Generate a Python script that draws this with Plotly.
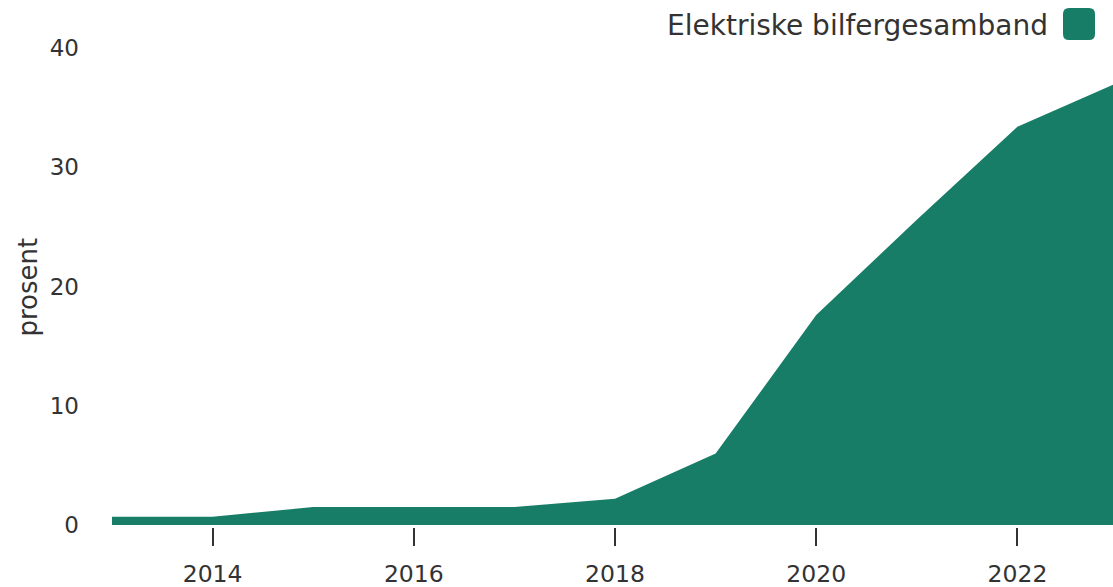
import plotly.graph_objects as go

# Share of electric car-ferry connections, per year (percent)
years = [2013, 2014, 2015, 2016, 2017, 2018, 2019, 2020, 2021, 2022, 2023]
share = [0.7, 0.7, 1.5, 1.5, 1.5, 2.2, 6.0, 17.6, 25.6, 33.4, 37.1]

series_name = "Elektriske bilfergesamband"
y_title = "prosent"
x_ticks = [2014, 2016, 2018, 2020, 2022]
y_ticks = [0, 10, 20, 30, 40]

GREEN = "#177d66"
TEXT = "#333333"
FONT = "DejaVu Sans"

fig = go.Figure()
fig.add_trace(go.Scatter(
    x=years, y=share, mode="lines", fill="tozeroy",
    line=dict(width=0, color=GREEN), fillcolor=GREEN,
    name=series_name, showlegend=False, hoverinfo="x+y",
))

fig.update_layout(
    width=1113, height=587,
    margin=dict(l=112, r=0, t=48, b=60),
    plot_bgcolor="white", paper_bgcolor="white",
    font=dict(family=FONT, color=TEXT, size=23),
    xaxis=dict(
        range=[2013, 2022.95], tickvals=x_ticks, ticktext=[str(v) for v in x_ticks],
        showgrid=False, zeroline=False, showline=False,
        ticks="outside", ticklen=18, tickwidth=2, tickcolor=TEXT,
        ticklabelstandoff=8,
        tickfont=dict(size=23.5, color=TEXT, family=FONT),
    ),
    yaxis=dict(
        range=[-0.17, 40], tickvals=y_ticks, ticktext=[str(v) for v in y_ticks],
        showgrid=False, zeroline=False, showline=False, ticks="",
        ticklabelstandoff=32,
        tickfont=dict(size=23, color=TEXT, family=FONT),
    ),
)

# Axis title
fig.add_annotation(
    text=y_title, xref="paper", yref="paper", x=0, y=0.5,
    xanchor="center", yanchor="middle", xshift=-85, textangle=-90,
    showarrow=False, font=dict(size=26, color=TEXT, family=FONT),
)

# Legend entry: label plus rounded swatch in the top-right corner
fig.add_annotation(
    text=series_name, xref="paper", yref="paper", x=1, y=1,
    xanchor="right", yanchor="middle", xshift=-63, yshift=23,
    showarrow=False, font=dict(size=28, color=TEXT, family=FONT),
)
fig.add_shape(
    type="path", xref="paper", yref="paper",
    xsizemode="pixel", ysizemode="pixel", xanchor=1, yanchor=1,
    path="M -44,8 L -24,8 Q -18,8 -18,14 L -18,34 Q -18,40 -24,40 "
         "L -44,40 Q -50,40 -50,34 L -50,14 Q -50,8 -44,8 Z",
    fillcolor=GREEN, line=dict(width=0),
)

fig.write_html("out.html")
